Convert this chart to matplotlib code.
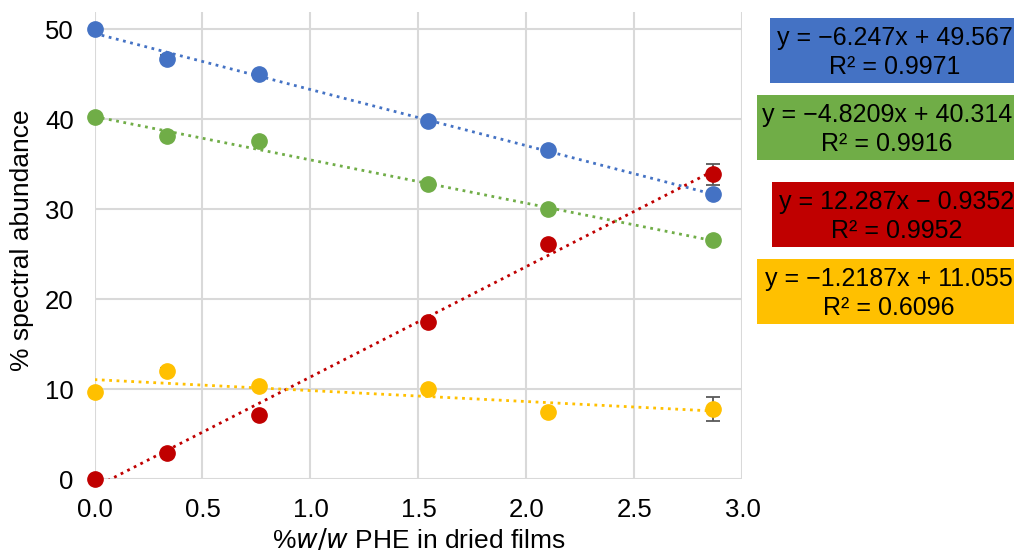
import numpy as np
import matplotlib.pyplot as plt
from matplotlib.patches import Rectangle

plt.rcParams['font.family'] = ['Liberation Sans', 'DejaVu Sans']

x = [0.0, 0.334, 0.763, 1.543, 2.10, 2.865]
blue = [50.0, 46.75, 45.0, 39.8, 36.6, 31.7]
green = [40.3, 38.15, 37.6, 32.8, 30.0, 26.55]
red = [0.0, 2.9, 7.1, 17.5, 26.1, 33.9]
yellow = [9.7, 12.0, 10.35, 9.98, 7.45, 7.8]

blue_err = [0, 0.4, 0, 0, 0, 0]
green_err = [0, 0, 0, 0, 0, 0]
red_err = [0, 0, 0, 0, 0, 1.15]
yellow_err = [0, 0.3, 0, 0, 0, 1.35]

# trendline coefficients (slope, intercept) and R² as shown on the chart
fits = [(-6.247, 49.567, 0.9971), (-4.8209, 40.314, 0.9916),
        (12.287, -0.9352, 0.9952), (-1.2187, 11.055, 0.6096)]

colors = ['#4472C4', '#70AD47', '#C00000', '#FFC000']

fig = plt.figure(figsize=(10.14, 5.59), dpi=100)
ax = fig.add_axes([0.0932, 0.1431, 0.6390, 0.8363])

series = [(blue, blue_err), (green, green_err), (red, red_err), (yellow, yellow_err)]
xx = np.array([x[0], x[-1]])
for (ys, err), (m, b, r2), c in zip(series, fits, colors):
    ax.plot(xx, m * xx + b, ':', color=c, lw=2.0, zorder=2)
    ax.errorbar(x, ys, yerr=err, fmt='o', color=c, ms=11, ecolor='#595959',
                elinewidth=1.3, capsize=5, capthick=1.3, zorder=3, clip_on=False)

ax.set_xlim(0, 3)
ax.set_ylim(0, 52)
ax.set_xticks(np.arange(0, 3.01, 0.5))
ax.set_xticklabels(['%.1f' % v for v in np.arange(0, 3.01, 0.5)])
ax.set_yticks(range(0, 51, 10))
ax.grid(True, color='#D9D9D9', lw=1.5, zorder=0)
ax.set_axisbelow(True)
for s in ax.spines.values():
    s.set_visible(False)
ax.tick_params(length=0, labelsize=18.5, colors='#000000')
ax.tick_params(axis='y', pad=15)
ax.tick_params(axis='x', pad=14)
ax.set_ylabel('% spectral abundance', fontsize=19)
ax.set_xlabel('%$\\it{w/w}$ PHE in dried films', fontsize=19)
ax.yaxis.set_label_coords(-0.094, 0.511)
ax.xaxis.set_label_coords(0.50, -0.103)

# equation boxes in pixel coords of the figure (top, bottom, left, text centre)
boxes = [(18, 83, 770, 895), (95, 160, 757, 887), (182, 247, 772, 897), (259, 324, 757, 889)]
W, H = 1014.0, 559.0
for (top, bot, left, cx), (m, b, r2), c in zip(boxes, fits, colors):
    fig.patches.append(Rectangle((left / W, 1 - bot / H), (W + 20 - left) / W, (bot - top) / H,
                                 transform=fig.transFigure, facecolor=c, edgecolor='none'))
    sign = '+' if b >= 0 else '\u2212'
    mtxt = ('\u2212' + str(abs(m))) if m < 0 else str(m)
    eq = 'y = %sx %s %s\nR\u00b2 = %s' % (mtxt, sign, str(abs(b)), str(r2))
    fig.text(cx / W, 1 - (top + bot) / 2 / H - 2 / H, eq, ha='center', va='center',
             fontsize=18, linespacing=1.22, color='black')

fig.savefig('out.png', dpi=100)
